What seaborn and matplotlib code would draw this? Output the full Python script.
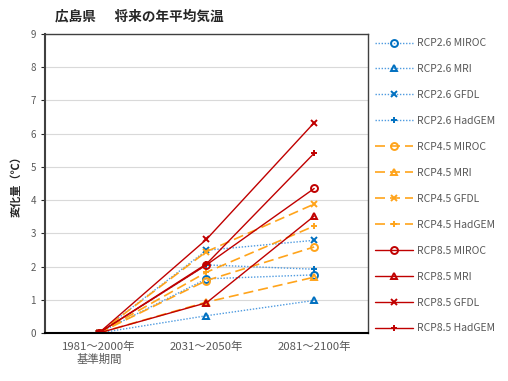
import pandas as pd
import numpy as np
import matplotlib.pyplot as plt
import seaborn as sns

# 期間とシナリオ
periods = ['1981～2000年\n基準期間', '2031～2050年', '2081～2100年']
models = ['MIROC', 'MRI', 'GFDL', 'HadGEM']
scenarios = ['RCP2.6', 'RCP4.5', 'RCP8.5']

# 変化量（℃）
rcp26_miroc = [0, 1.63, 1.75]
rcp26_mri = [0, 0.52, 0.98]
rcp26_gfdl = [0, 2.49, 2.79]
rcp26_hadgem = [0, 2.05, 1.92]
rcp45_miroc = [0, 1.58, 2.59]
rcp45_mri = [0, 0.93, 1.68]
rcp45_gfdl = [0, 2.45, 3.88]
rcp45_hadgem = [0, 1.83, 3.22]
rcp85_miroc = [0, 2.05, 4.35]
rcp85_mri = [0, 0.91, 3.52]
rcp85_gfdl = [0, 2.82, 6.33]
rcp85_hadgem = [0, 2.08, 5.41]

values = {
    'RCP2.6': [rcp26_miroc, rcp26_mri, rcp26_gfdl, rcp26_hadgem],
    'RCP4.5': [rcp45_miroc, rcp45_mri, rcp45_gfdl, rcp45_hadgem],
    'RCP8.5': [rcp85_miroc, rcp85_mri, rcp85_gfdl, rcp85_hadgem],
}

line_colors = {'RCP2.6': '#4f9be0', 'RCP4.5': '#ffa41b', 'RCP8.5': '#c00000'}
marker_colors = {'RCP2.6': '#0070c0', 'RCP4.5': '#ffa41b', 'RCP8.5': '#c00000'}
line_styles = {'RCP2.6': (0, (1, 1.2)), 'RCP4.5': (0, (6, 3)), 'RCP8.5': '-'}
markers = {'MIROC': 'o', 'MRI': '^', 'GFDL': 'x', 'HadGEM': '+'}

rows = []
for sc in scenarios:
    for m, vals in zip(models, values[sc]):
        for i, v in enumerate(vals):
            rows.append({'series': f'{sc} {m}', 'scenario': sc, 'model': m, 'x': i, 'value': v})
df = pd.DataFrame(rows)

sns.set_style('white')
plt.rcParams['font.family'] = ['Noto Sans CJK JP', 'DejaVu Sans']

fig = plt.figure(figsize=(5.08, 3.81), dpi=100)
ax = fig.add_axes([45 / 508, 1 - 333 / 381, (368 - 45) / 508, (333 - 34) / 381])

for sc in scenarios:
    for m in models:
        sub = df[(df['scenario'] == sc) & (df['model'] == m)]
        sns.lineplot(data=sub, x='x', y='value', ax=ax, color=line_colors[sc],
                     linestyle=line_styles[sc], linewidth=1.0 if sc != 'RCP4.5' else 1.2,
                     marker=markers[m], markersize=5.5 if m in ('x', '+') else 5,
                     markerfacecolor='none',
                     markeredgecolor=marker_colors[sc],
                     markeredgewidth=2.0 if m == '+' else 1.4,
                     label=f'{sc} {m}')

ax.set_xlim(-0.5, 2.5)
ax.set_ylim(0, 9)
ax.set_yticks(range(0, 10))
ax.set_xticks(range(len(periods)))
ax.set_xticklabels(periods, fontsize=8.2, color='#595959')
ax.tick_params(axis='y', labelsize=7, labelcolor='#595959', length=3, direction='out', left=True)
ax.tick_params(axis='x', length=0, pad=6)
ax.grid(axis='y', color='#d9d9d9', linewidth=0.8)
ax.set_axisbelow(True)
for side in ['top', 'right']:
    ax.spines[side].set_color('#404040')
    ax.spines[side].set_linewidth(1.0)
ax.spines['left'].set_color('#404040')
ax.spines['left'].set_linewidth(1.5)
ax.spines['bottom'].set_color('black')
ax.spines['bottom'].set_linewidth(1.5)
ax.set_xlabel('')
ax.set_ylabel('変化量（℃）', fontsize=8, fontweight='bold', labelpad=6)

fig.text(55 / 508, 1 - 16 / 381, '広島県      将来の年平均気温', fontsize=9.8, fontweight='bold',
         va='center', ha='left')

leg = ax.legend(loc='upper left', bbox_to_anchor=(1.01, 1.0), frameon=False,
                fontsize=7.5, labelspacing=1.53, handlelength=3.6, handletextpad=0.4,
                borderaxespad=0)
for t in leg.get_texts():
    t.set_color('#595959')

fig.savefig('out.png', dpi=100)
